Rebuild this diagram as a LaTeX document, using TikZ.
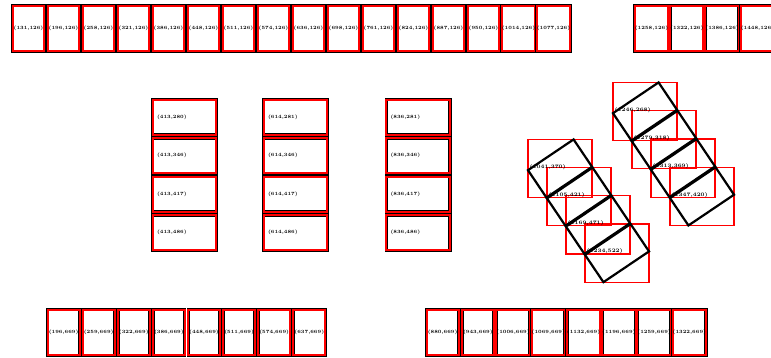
\documentclass[tikz,border=0pt]{standalone}
\usepackage{tikz}
\usetikzlibrary{positioning,calc,backgrounds}
\definecolor{bay}{HTML}{FF0000}
\tikzset{
  spot/.style={draw=black,line width=0.6pt,double=bay,double distance=2pt,fill=white,
    inner sep=0pt,outer sep=0pt,minimum width=31.8pt,minimum height=45.8pt,
    font=\fontsize{4.8}{5}\selectfont\bfseries},
  hspot/.style={spot,minimum width=63.8pt,minimum height=35.3pt,text width=55pt,align=left},
  tag/.style={font=\fontsize{5.2}{6}\selectfont\bfseries,inner sep=0pt},
  tilt/.style={draw=black,line width=2.2pt,inner sep=0pt,outer sep=0pt,
    minimum width=55pt,minimum height=33pt},
  hull/.style={draw=bay,line width=1.1pt},
}

\begin{document}
\begin{tikzpicture}[x=1pt,y=-1pt]
  \useasboundingbox (0,0) rectangle (771,358);
  % --- top row ---
  \foreach \lx [count=\i from 0] in {131,196,258,321,386,448,511,574,636,698,761,824,887,950,1014,1077}
    \node[spot] (t\i) at ({28.5+35*\i},28.5) {(\lx,126)};
  \foreach \lx [count=\i from 0] in {1258,1322,1386,1448}
    \node[spot] (tr\i) at ({651.5+35.3*\i},28.5) {(\lx,126)};
  % --- middle columns ---
  \foreach \ly [count=\i from 0] in {280,346,417,486}
    \node[hspot] (ca\i) at (184.5,{117.25+38.5*\i}) {(413,\ly)};
  \foreach \ly [count=\i from 0] in {281,346,417,486}
    \node[hspot] (cb\i) at (295.5,{117.25+38.5*\i}) {(614,\ly)};
  \foreach \ly [count=\i from 0] in {281,346,417,486}
    \node[hspot] (cc\i) at (418,{117.25+38.5*\i}) {(836,\ly)};
  % --- bottom rows ---
  \foreach \lx [count=\i from 0] in {196,259,322,386,448,511,574,637}
    \node[spot] (bl\i) at ({63.6+35.1*\i},332.5) {(\lx,669)};
  \foreach \lx [count=\i from 0] in {880,943,1006,1069,1132,1196,1259,1322}
    \node[spot] (br\i) at ({442.6+35.25*\i},332.5) {(\lx,669)};
  % --- tilted spots ---
  \foreach \lx/\ly [count=\i from 0] in {1041/370,1105/421,1169/471,1234/522}{
    \node[tilt,rotate=34] (a\i) at ({560+19*\i},{168.5+28.2*\i}) {};
    \node[tag,anchor=base west] (al\i) at ($(a\i.north west)+(1.5,-2)$) {(\lx,\ly)};
  }
  \foreach \lx/\ly [count=\i from 0] in {1246/268,1279/318,1313/369,1347/420}{
    \node[tilt,rotate=34] (b\i) at ({645+19*\i},{111.5+28.3*\i}) {};
    \node[tag,anchor=base west] (bt\i) at ($(b\i.north west)+(1.5,-2)$) {(\lx,\ly)};
  }
  \begin{scope}[on background layer]
    \foreach \i in {0,...,3}{
      \draw[hull] (a\i.north west |- a\i.north east) rectangle (a\i.south east |- a\i.south west);
      \draw[hull] (b\i.north west |- b\i.north east) rectangle (b\i.south east |- b\i.south west);
    }
  \end{scope}
\end{tikzpicture}
\end{document}
